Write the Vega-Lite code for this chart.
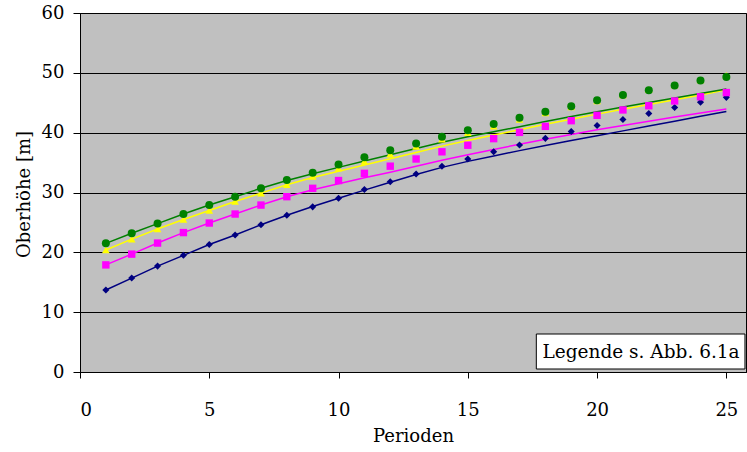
{
  "$schema": "https://vega.github.io/schema/vega-lite/v6.json",
  "width": 666,
  "height": 359,
  "autosize": {"type": "none"},
  "padding": {"left": 80, "top": 13, "right": 1, "bottom": 80},
  "background": "white",
  "config": {
    "view": {"fill": "#C0C0C0", "stroke": "#000000", "strokeWidth": 1},
    "font": "DejaVu Serif",
    "axis": {"labelFont": "DejaVu Serif", "titleFont": "DejaVu Serif", "labelColor": "#000", "titleColor": "#000", "domainColor": "#000", "tickColor": "#000", "labelFontSize": 18, "titleFontSize": 18, "titleFontWeight": "normal"}
  },
  "data": {"values": [
    {"p":1,"s":"a","obs":13.7,"fit":13.7},{"p":2,"s":"a","obs":15.7,"fit":15.7},{"p":3,"s":"a","obs":17.7,"fit":17.7},{"p":4,"s":"a","obs":19.5,"fit":19.5},{"p":5,"s":"a","obs":21.3,"fit":21.3},
    {"p":6,"s":"a","obs":22.9,"fit":22.9},{"p":7,"s":"a","obs":24.6,"fit":24.6},{"p":8,"s":"a","obs":26.2,"fit":26.2},{"p":9,"s":"a","obs":27.6,"fit":27.65},{"p":10,"s":"a","obs":29.05,"fit":29.05},
    {"p":11,"s":"a","obs":30.5,"fit":30.4},{"p":12,"s":"a","obs":31.8,"fit":31.7},{"p":13,"s":"a","obs":33.1,"fit":33.0},{"p":14,"s":"a","obs":34.4,"fit":34.2},{"p":15,"s":"a","obs":35.6,"fit":35.2},
    {"p":16,"s":"a","obs":36.8,"fit":36.1},{"p":17,"s":"a","obs":37.95,"fit":37.0},{"p":18,"s":"a","obs":39.05,"fit":37.85},{"p":19,"s":"a","obs":40.2,"fit":38.7},{"p":20,"s":"a","obs":41.2,"fit":39.5},
    {"p":21,"s":"a","obs":42.2,"fit":40.3},{"p":22,"s":"a","obs":43.2,"fit":41.1},{"p":23,"s":"a","obs":44.2,"fit":41.9},{"p":24,"s":"a","obs":45.1,"fit":42.75},{"p":25,"s":"a","obs":45.9,"fit":43.55},

    {"p":1,"s":"b","obs":17.9,"fit":17.9},{"p":2,"s":"b","obs":19.7,"fit":19.7},{"p":3,"s":"b","obs":21.55,"fit":21.55},{"p":4,"s":"b","obs":23.3,"fit":23.3},{"p":5,"s":"b","obs":24.9,"fit":24.9},
    {"p":6,"s":"b","obs":26.4,"fit":26.4},{"p":7,"s":"b","obs":27.9,"fit":27.9},{"p":8,"s":"b","obs":29.3,"fit":29.3},{"p":9,"s":"b","obs":30.7,"fit":30.45},{"p":10,"s":"b","obs":32.0,"fit":31.45},
    {"p":11,"s":"b","obs":33.2,"fit":32.45},{"p":12,"s":"b","obs":34.4,"fit":33.4},{"p":13,"s":"b","obs":35.6,"fit":34.4},{"p":14,"s":"b","obs":36.8,"fit":35.4},{"p":15,"s":"b","obs":37.9,"fit":36.3},
    {"p":16,"s":"b","obs":39.0,"fit":37.2},{"p":17,"s":"b","obs":40.05,"fit":38.05},{"p":18,"s":"b","obs":41.05,"fit":38.9},{"p":19,"s":"b","obs":42.0,"fit":39.7},{"p":20,"s":"b","obs":42.9,"fit":40.5},
    {"p":21,"s":"b","obs":43.8,"fit":41.2},{"p":22,"s":"b","obs":44.5,"fit":41.9},{"p":23,"s":"b","obs":45.3,"fit":42.6},{"p":24,"s":"b","obs":46.0,"fit":43.3},{"p":25,"s":"b","obs":46.7,"fit":43.95},

    {"p":1,"s":"c","obs":20.4,"fit":20.4},{"p":2,"s":"c","obs":22.2,"fit":22.2},{"p":3,"s":"c","obs":23.9,"fit":23.9},{"p":4,"s":"c","obs":25.5,"fit":25.5},{"p":5,"s":"c","obs":27.0,"fit":27.0},
    {"p":6,"s":"c","obs":28.5,"fit":28.5},{"p":7,"s":"c","obs":29.9,"fit":29.9},{"p":8,"s":"c","obs":31.3,"fit":31.3},{"p":9,"s":"c","obs":32.7,"fit":32.5},{"p":10,"s":"c","obs":34.05,"fit":33.55},
    {"p":11,"s":"c","obs":35.2,"fit":34.6},{"p":12,"s":"c","obs":36.4,"fit":35.65},{"p":13,"s":"c","obs":37.7,"fit":36.7},{"p":14,"s":"c","obs":38.9,"fit":37.75},{"p":15,"s":"c","obs":40.0,"fit":38.7},
    {"p":16,"s":"c","obs":41.1,"fit":39.6},{"p":17,"s":"c","obs":42.2,"fit":40.5},{"p":18,"s":"c","obs":43.3,"fit":41.4},{"p":19,"s":"c","obs":44.3,"fit":42.25},{"p":20,"s":"c","obs":45.3,"fit":43.1},
    {"p":21,"s":"c","obs":46.3,"fit":43.9},{"p":22,"s":"c","obs":47.2,"fit":44.7},{"p":23,"s":"c","obs":48.0,"fit":45.5},{"p":24,"s":"c","obs":48.8,"fit":46.3},{"p":25,"s":"c","obs":49.6,"fit":47.15},

    {"p":1,"s":"d","obs":21.5,"fit":21.5},{"p":2,"s":"d","obs":23.2,"fit":23.2},{"p":3,"s":"d","obs":24.8,"fit":24.8},{"p":4,"s":"d","obs":26.4,"fit":26.4},{"p":5,"s":"d","obs":27.9,"fit":27.9},
    {"p":6,"s":"d","obs":29.3,"fit":29.3},{"p":7,"s":"d","obs":30.7,"fit":30.7},{"p":8,"s":"d","obs":32.1,"fit":32.0},{"p":9,"s":"d","obs":33.3,"fit":33.15},{"p":10,"s":"d","obs":34.7,"fit":34.2},
    {"p":11,"s":"d","obs":35.9,"fit":35.25},{"p":12,"s":"d","obs":37.05,"fit":36.3},{"p":13,"s":"d","obs":38.2,"fit":37.35},{"p":14,"s":"d","obs":39.3,"fit":38.4},{"p":15,"s":"d","obs":40.4,"fit":39.3},
    {"p":16,"s":"d","obs":41.45,"fit":40.15},{"p":17,"s":"d","obs":42.5,"fit":41.0},{"p":18,"s":"d","obs":43.5,"fit":41.85},{"p":19,"s":"d","obs":44.4,"fit":42.7},{"p":20,"s":"d","obs":45.4,"fit":43.5},
    {"p":21,"s":"d","obs":46.3,"fit":44.3},{"p":22,"s":"d","obs":47.1,"fit":45.05},{"p":23,"s":"d","obs":47.9,"fit":45.8},{"p":24,"s":"d","obs":48.7,"fit":46.55},{"p":25,"s":"d","obs":49.3,"fit":47.3}
  ]},
  "layer": [
    {
      "mark": {"type": "line", "strokeWidth": 1.5},
      "encoding": {
        "x": {"field": "p", "type": "quantitative", "scale": {"domain": [0, 25.76], "nice": false, "zero": false},
              "axis": {"values": [0,5,10,15,20,25], "grid": false, "title": "Perioden", "tickSize": 6, "labelPadding": 32, "labelBaseline": "middle", "titleY": 64, "titleBaseline": "middle"}},
        "y": {"field": "fit", "type": "quantitative", "scale": {"domain": [0, 60], "nice": false},
              "axis": {"values": [0,10,20,30,40,50,60], "grid": true, "gridColor": "#000", "gridWidth": 1, "gridOpacity": 1, "title": "Oberhöhe [m]", "tickSize": 7, "labelPadding": 9, "titleX": -56, "titleY": 181, "titleBaseline": "middle"}},
        "color": {"field": "s", "type": "nominal", "legend": null, "scale": {"domain": ["a","b","c","d"], "range": ["#000080","#FF00FF","#FFFF00","#008000"]}}
      }
    },
    {
      "mark": {"type": "point", "filled": true, "opacity": 1, "strokeWidth": 0},
      "encoding": {
        "x": {"field": "p", "type": "quantitative"},
        "y": {"field": "obs", "type": "quantitative"},
        "color": {"field": "s", "type": "nominal", "legend": null},
        "shape": {"field": "s", "type": "nominal", "legend": null, "scale": {"domain": ["a","b","c","d"], "range": ["diamond","square","triangle-up","circle"]}},
        "size": {"field": "s", "type": "nominal", "legend": null, "scale": {"domain": ["a","b","c","d"], "range": [50, 64, 64, 42]}}
      }
    },
    {
      "data": {"values": [{"t": "Legende s. Abb. 6.1a"}]},
      "mark": {"type": "rect", "fill": "white", "stroke": "black", "strokeWidth": 1},
      "encoding": {"x": {"datum": 17.65}, "x2": {"datum": 25.72}, "y": {"datum": 0.5}, "y2": {"datum": 6.35}}
    },
    {
      "data": {"values": [{"t": "Legende s. Abb. 6.1a"}]},
      "mark": {"type": "text", "fontSize": 18.5, "font": "DejaVu Serif", "color": "black", "align": "center", "baseline": "middle"},
      "encoding": {"x": {"datum": 21.7}, "y": {"datum": 3.35}, "text": {"field": "t"}}
    }
  ]
}
